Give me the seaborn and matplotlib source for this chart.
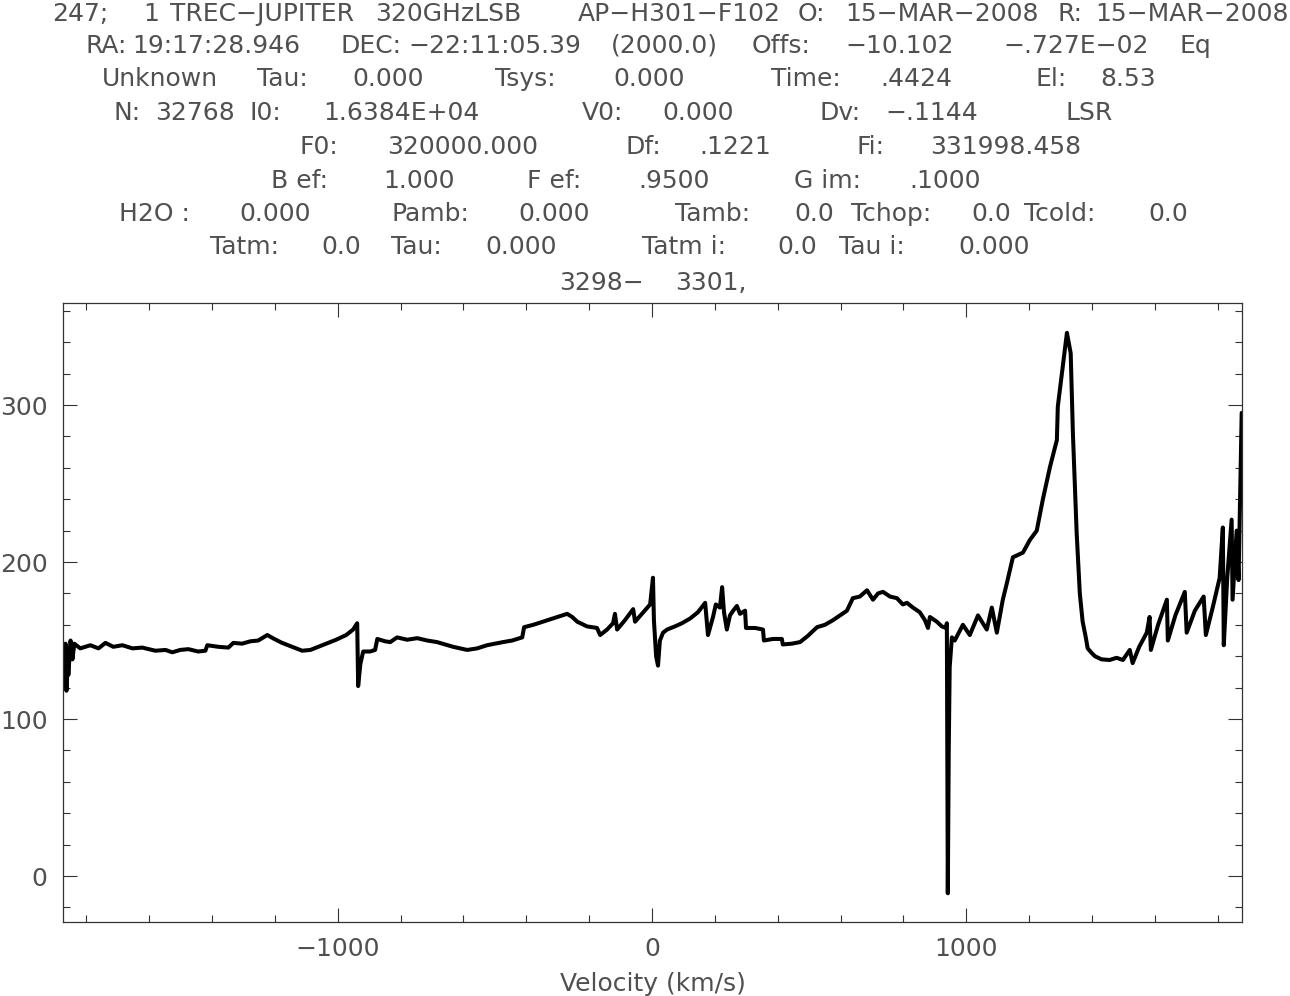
import numpy as np
import pandas as pd
import matplotlib
matplotlib.use("Agg")
import matplotlib.pyplot as plt
import seaborn as sns
from matplotlib.ticker import MultipleLocator

# spectrum (km/s, intensity)
velocity = [
    -1873, -1870, -1866, -1863, -1860, -1857, -1850, -1844, -1838, -1819,
    -1787, -1761, -1739, -1714, -1685, -1653, -1622, -1580, -1548, -1526,
    -1501, -1475, -1444, -1421, -1415, -1380, -1348, -1332, -1304, -1278,
    -1253, -1224, -1202, -1177, -1145, -1113, -1087, -1062, -1037, -1005,
    -973, -951, -938, -935, -928, -919, -897, -881, -874, -849,
    -833, -811, -779, -747, -715, -684, -658, -633, -611, -588,
    -556, -525, -499, -474, -445, -413, -407, -378, -347, -308,
    -270, -254, -238, -207, -175, -165, -143, -124, -118, -111,
    -86, -60, -54, -32, -6, 3, 6, 13, 19, 25,
    35, 48, 73, 95, 121, 146, 169, 178, 194, 203,
    216, 223, 229, 238, 248, 258, 270, 280, 296, 299,
    328, 353, 356, 385, 413, 416, 445, 471, 496, 525,
    550, 576, 598, 620, 639, 661, 684, 703, 719, 735,
    757, 779, 798, 811, 830, 852, 868, 878, 884, 906,
    922, 935, 938, 941, 944, 947, 954, 963, 989, 1011,
    1037, 1065, 1081, 1097, 1116, 1129, 1148, 1180, 1202, 1224,
    1243, 1266, 1288, 1291, 1304, 1320, 1332, 1339, 1351, 1361,
    1370, 1380, 1386, 1399, 1409, 1430, 1456, 1478, 1498, 1520,
    1529, 1550, 1574, 1583, 1587, 1610, 1638, 1641, 1665, 1695,
    1701, 1727, 1755, 1762, 1785, 1806, 1816, 1819, 1830, 1844,
    1847, 1860, 1866, 1876,
]
intensity = [
    140, 122, 148, 118, 145, 128, 150, 138, 148, 145,
    147, 145, 148.5, 146, 147, 145, 145.5, 143.5, 144, 142.5,
    144, 144.5, 143, 143.5, 147, 146, 145.5, 148.5, 148, 149.5,
    150, 153.5, 151, 148.5, 146, 143.5, 144, 146, 148, 150.5,
    153.5, 157, 161, 121, 135, 143, 143, 144, 151, 149.5,
    149, 152, 150.5, 151.5, 150, 149, 147.5, 146, 145, 144,
    145, 147, 148, 149, 150, 152, 158.5, 160, 162, 164.5,
    167, 165, 162, 159, 158, 153.5, 157, 161, 167, 157,
    163, 170, 162, 167, 173, 190, 163, 140, 134, 150,
    155, 157, 159, 161, 164, 168, 174, 153.5, 165, 173,
    171, 184, 168, 157, 166, 169, 172, 167, 169, 158,
    158, 157, 150, 151, 151, 147.5, 148, 149, 153, 158.5,
    160, 163, 166, 169, 177, 178, 182, 176, 180, 181,
    178, 177, 173, 174, 171, 168, 163, 158, 165, 162,
    159, 158, 161, -11, 80, 133, 152, 150, 160, 153.5,
    166, 157, 171, 155, 176, 186.6, 203, 206, 214, 220,
    239.5, 260.5, 277.7, 299, 320, 346, 333, 282, 218.5, 180,
    162, 152, 145, 142, 140, 138, 137.6, 139, 137.6, 144,
    135.6, 146, 155, 165, 144, 160, 176, 150, 166, 181,
    155, 169, 178, 153.5, 172, 190, 222, 147, 190, 227,
    176, 220, 188.5, 295,
]

x_ticks = [-1000, 0, 1000]
y_ticks = [0, 100, 200, 300]

# header block (figure pixels: baseline y, then left x of each field)
header = [
    (21, [(52, "247;"), (143, "1"), (170, "TREC\u2212JUPITER"), (375, "320GHzLSB"),
          (578, "AP\u2212H301\u2212F102"), (798, "O:"), (845, "15\u2212MAR\u22122008"),
          (1057, "R:"), (1095, "15\u2212MAR\u22122008")]),
    (53, [(85, "RA:"), (132, "19:17:28.946"), (340, "DEC:"), (408, "\u221222:11:05.39"),
          (611, "(2000.0)"), (752, "Offs:"), (845, "\u221210.102"),
          (1003, "\u2212.727E\u221202"), (1180, "Eq")]),
    (86, [(102, "Unknown"), (257, "Tau:"), (352, "0.000"), (495, "Tsys:"), (613, "0.000"),
          (771, "Time:"), (880, ".4424"), (1036, "El:"), (1100, "8.53")]),
    (120, [(114, "N:"), (155, "32768"), (249, "I0:"), (323, "1.6384E+04"), (582, "V0:"),
           (662, "0.000"), (820, "Dv:"), (885, "\u2212.1144"), (1065, "LSR")]),
    (154, [(300, "F0:"), (387, "320000.000"), (625, "Df:"), (699, ".1221"),
           (856, "Fi:"), (930, "331998.458")]),
    (188, [(271, "B ef:"), (383, "1.000"), (527, "F ef:"), (638, ".9500"),
           (794, "G im:"), (909, ".1000")]),
    (221, [(119, "H2O :"), (239, "0.000"), (391, "Pamb:"), (518, "0.000"), (675, "Tamb:"),
           (794, "0.0"), (851, "Tchop:"), (971, "0.0"), (1024, "Tcold:"), (1148, "0.0")]),
    (254, [(210, "Tatm:"), (321, "0.0"), (391, "Tau:"), (485, "0.000"), (642, "Tatm i:"),
           (777, "0.0"), (839, "Tau i:"), (958, "0.000")]),
    (290, [(559, "3298\u2212"), (675, "3301,")]),
]

df = pd.DataFrame({"v": velocity, "T": intensity})

sns.set_style("ticks")
plt.rcParams["font.family"] = ["DejaVu Sans"]
txt_col = "#505050"
W, H = 1290, 996

fig = plt.figure(figsize=(12.9, 9.96), dpi=100)
ax = fig.add_axes([63 / W, 1 - 922 / H, (1242 - 63) / W, (922 - 303) / H])

sns.lineplot(data=df, x="v", y="T", sort=False, estimator=None,
             color="black", linewidth=2.9, ax=ax)

ax.set_xlim(-1874, 1877)
ax.set_ylim(-29.3, 365)
ax.set_xticks(x_ticks)
ax.set_yticks(y_ticks)
ax.xaxis.set_minor_locator(MultipleLocator(200))
ax.yaxis.set_minor_locator(MultipleLocator(20))
ax.tick_params(which="both", direction="in", top=True, right=True,
               width=0.8, color="#333333", labelsize=18, labelcolor=txt_col)
ax.tick_params(which="major", length=10)
ax.tick_params(which="minor", length=5)
ax.tick_params(axis="y", pad=11)
ax.tick_params(axis="x", pad=11)
ax.set_xticklabels([f"{t}".replace("-", "\u2212") for t in x_ticks])
for s in ax.spines.values():
    s.set_visible(True)
    s.set_color("#333333")
    s.set_linewidth(0.9)
ax.set_xlabel("Velocity (km/s)", fontsize=18, color=txt_col, labelpad=8)
ax.set_ylabel("")

for ybase, fields in header:
    for xl, s in fields:
        fig.text(xl / W, 1 - ybase / H, s, ha="left", va="baseline",
                 fontsize=18, color=txt_col)

fig.savefig("out.png", dpi=100)
